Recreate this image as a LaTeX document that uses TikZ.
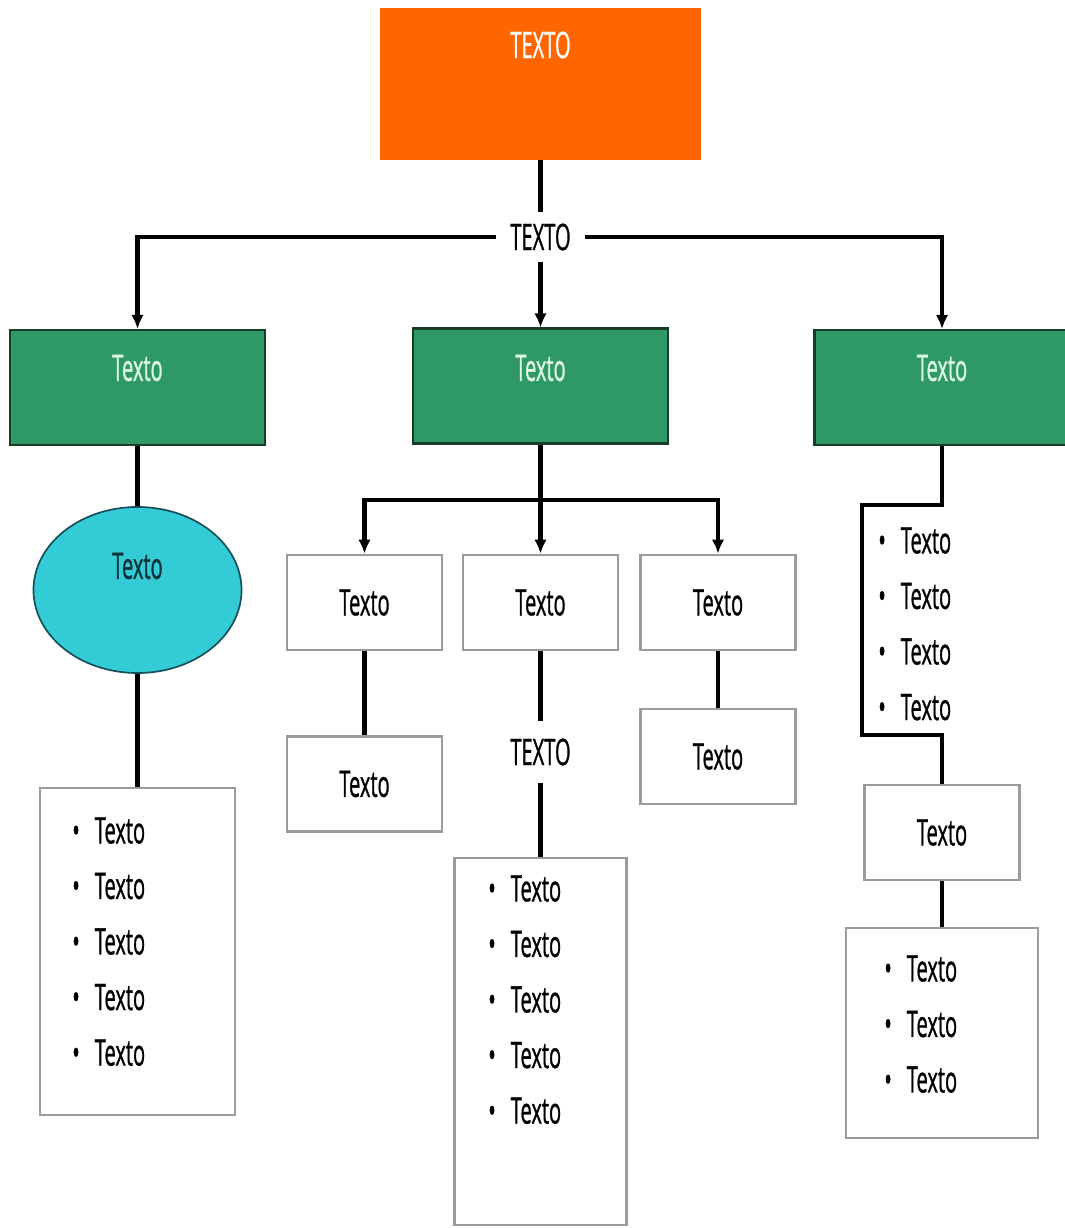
\documentclass[tikz,border=0pt]{standalone}
\usepackage{fontspec}
\setmainfont{Open Sans}[FakeStretch=0.55,FakeBold=0.8]
\usetikzlibrary{arrows.meta,shapes.geometric}
\definecolor{topfill}{RGB}{255,102,0}
\definecolor{gfill}{RGB}{46,152,102}
\definecolor{gdraw}{RGB}{24,60,40}
\definecolor{gtext}{RGB}{220,250,220}
\definecolor{efill}{RGB}{51,204,214}
\definecolor{edraw}{RGB}{20,80,90}
\definecolor{etext}{RGB}{8,50,55}
\definecolor{bdraw}{RGB}{155,155,155}
\newcommand{\bfnt}{\fontsize{26pt}{39.5pt}\selectfont}
\newcommand{\itm}{\makebox[16pt][l]{\textbullet}Texto}

\begin{document}
\begin{tikzpicture}[x=0.025cm,y=-0.025cm,font=\bfnt,
  line/.style={line width=3pt},
  arr/.style={line width=3pt,-{Latex[length=10pt,width=9pt]}},
  topbox/.style={fill=topfill,minimum width=8cm,minimum height=3.8cm,inner sep=0pt},
  greenbox/.style={fill=gfill,draw=gdraw,line width=1.5pt,minimum width=6.375cm,minimum height=2.875cm,inner sep=0pt},
  whitebox/.style={draw=bdraw,line width=2pt,fill=white,minimum width=3.875cm,minimum height=2.375cm,inner sep=0pt},
  listbox/.style={draw=bdraw,line width=2pt,fill=white,inner sep=0pt},
  itemlist/.style={anchor=north west,align=left,inner sep=0pt},
  bare/.style={fill=white,inner xsep=10pt,inner ysep=8pt}]
  \useasboundingbox (0,0) rectangle (1064,1228);
  %top
  \node[topbox] (top) at (540.5,84) {};
  \node[text=white] (toptxt) at (540.5,45) {TEXTO};
  \node[bare] (hub) at (540.5,237) {TEXTO};
  %green row
  \node[greenbox] (g1) at (137.5,387.5) {};
  \node[greenbox] (g2) at (540.5,386) {};
  \node[greenbox] (g3) at (942,387.5) {};
  \node[text=gtext] (g1txt) at (137.5,368) {Texto};
  \node[text=gtext] (g2txt) at (540.5,368) {Texto};
  \node[text=gtext] (g3txt) at (942,368) {Texto};
  \draw[line] (top.south) -- (hub.north);
  \draw[arr] (hub.west) -| (g1.north);
  \draw[arr] (hub.east) -| (g3.north);
  \draw[arr] (hub.south) -- (g2.north);

  %left branch
  \node[ellipse,fill=efill,draw=edraw,line width=1.2pt,minimum width=5.2cm,minimum height=4.15cm,inner sep=0pt] (ell) at (137.5,590) {};
  \node[text=etext] (elltxt) at (137.5,566) {Texto};
  \node[listbox,minimum width=4.875cm,minimum height=8.175cm] (l1) at (137.5,951.5) {};
  \node[itemlist] (l1txt) at (72,817) {\itm\\\itm\\\itm\\\itm\\\itm};
  \draw[line] (g1.south) -- (ell.north);
  \draw[line] (ell.south) -- (l1.north);

  %middle branch
  \coordinate (mj) at (540.5,500);
  \node[whitebox] (a) at (364.5,602.5) {Texto};
  \node[whitebox] (b) at (540.5,602.5) {Texto};
  \node[whitebox] (c) at (718,602.5) {Texto};
  \node[whitebox] (a2) at (364.5,784) {Texto};
  \node[whitebox] (c2) at (718,756.5) {Texto};
  \node[inner ysep=12pt] (bt) at (540.5,752) {TEXTO};
  \node[listbox,minimum width=4.3cm,minimum height=9.175cm] (b2) at (540.5,1041.5) {};
  \node[itemlist] (b2txt) at (488,875) {\itm\\\itm\\\itm\\\itm\\\itm};
  \draw[line] (g2.south) -- (mj);
  \draw[arr] (mj) -| (a.north);
  \draw[arr] (mj) -| (c.north);
  \draw[arr] (mj) -- (b.north);
  \draw[line] (a.south) -- (a2.north);
  \draw[line] (c.south) -- (c2.north);
  \draw[line] (b.south) -- (bt.north);
  \draw[line] (bt.south) -- (b2.north);

  %right branch
  \coordinate (rtop) at (862,505);
  \coordinate (rbot) at (862,735);
  \node[itemlist] (rtxt) at (878,527) {\itm\\\itm\\\itm\\\itm};
  \node[whitebox] (r) at (942,832.5) {Texto};
  \node[listbox,minimum width=4.8cm,minimum height=5.25cm] (r2) at (942,1033) {};
  \node[itemlist] (r2txt) at (884,955) {\itm\\\itm\\\itm};
  \draw[line] (g3.south) |- (rtop) -- (rbot) -| (r.north);
  \draw[line] (r.south) -- (r2.north);
\end{tikzpicture}
\end{document}
